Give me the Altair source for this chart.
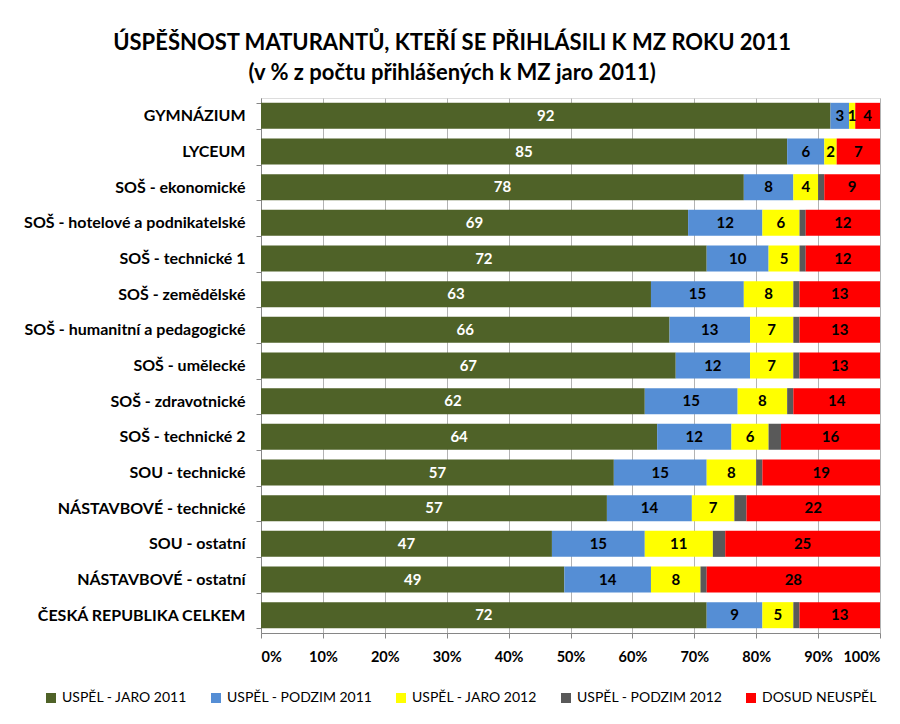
import altair as alt
import pandas as pd

categories = [
    "GYMNÁZIUM",
    "LYCEUM",
    "SOŠ - ekonomické",
    "SOŠ - hotelové a podnikatelské",
    "SOŠ - technické 1",
    "SOŠ - zemědělské",
    "SOŠ - humanitní a pedagogické",
    "SOŠ - umělecké",
    "SOŠ - zdravotnické",
    "SOŠ - technické 2",
    "SOU - technické",
    "NÁSTAVBOVÉ - technické",
    "SOU - ostatní",
    "NÁSTAVBOVÉ - ostatní",
    "ČESKÁ REPUBLIKA CELKEM",
]

series_names = [
    "USPĚL - JARO 2011",
    "USPĚL - PODZIM 2011",
    "USPĚL - JARO 2012",
    "USPĚL - PODZIM 2012",
    "DOSUD NEUSPĚL",
]
series_colors = ["#4F6228", "#558ED5", "#FFFF00", "#595959", "#FF0000"]

jaro_2011 = [92, 85, 78, 69, 72, 63, 66, 67, 62, 64, 57, 57, 47, 49, 72]
podzim_2011 = [3, 6, 8, 12, 10, 15, 13, 12, 15, 12, 15, 14, 15, 14, 9]
jaro_2012 = [1, 2, 4, 6, 5, 8, 7, 7, 8, 6, 8, 7, 11, 8, 5]
podzim_2012 = [0, 0, 1, 1, 1, 1, 1, 1, 1, 2, 1, 2, 2, 1, 1]
neuspel = [4, 7, 9, 12, 12, 13, 13, 13, 14, 16, 19, 22, 25, 28, 13]

x_ticks = [0, 0.1, 0.2, 0.3, 0.4, 0.5, 0.6, 0.7, 0.8, 0.9, 1.0]

all_series = [jaro_2011, podzim_2011, jaro_2012, podzim_2012, neuspel]
rows = []
for si, (name, vals) in enumerate(zip(series_names, all_series)):
    for cat, v in zip(categories, vals):
        rows.append({"cat": cat, "series": name, "order": si, "value": v,
                     "label": str(v), "txtcol": "white" if si == 0 else "black"})
df = pd.DataFrame(rows)

FONT = "Lato"

base = alt.Chart(df).transform_joinaggregate(
    total="sum(value)", groupby=["cat"]
).transform_calculate(
    pct="datum.value / datum.total"
).transform_stack(
    stack="pct", groupby=["cat"], as_=["x0", "x1"],
    sort=[alt.SortField("order", order="ascending")]
).transform_calculate(
    mid="(datum.x0 + datum.x1) / 2"
)

y_enc = alt.Y(
    "cat:N", sort=categories, title=None,
    scale=alt.Scale(paddingInner=0.27, paddingOuter=0.135),
    axis=alt.Axis(
        labelFont=FONT, labelFontSize=16, labelFontWeight="bold", labelColor="#000000",
        tickBand="extent", tickSize=5, tickColor="#868686", domainColor="#868686",
        labelPadding=11, grid=False, labelLimit=400,
    ),
)

bars = base.mark_bar().encode(
    y=y_enc,
    x=alt.X(
        "x0:Q", title=None,
        scale=alt.Scale(domain=[0, 1], nice=False),
        axis=alt.Axis(
            values=x_ticks, format=".0%", labelFont=FONT, labelFontSize=14.5,
            labelFontWeight="bold", labelColor="#000000", grid=True, gridColor="#B3B3B3",
            tickSize=5, tickColor="#868686", domainColor="#868686", labelPadding=12,
        ),
    ),
    x2="x1:Q",
    color=alt.Color(
        "series:N",
        scale=alt.Scale(domain=series_names, range=series_colors),
        legend=alt.Legend(
            title=None, orient="none", direction="horizontal", legendX=-217, legendY=593,
            symbolType="square", symbolSize=100, symbolStrokeWidth=0,
            labelFont=FONT, labelFontSize=14, labelColor="#000000",
            columnPadding=21, labelOffset=4, labelLimit=300,
        ),
    ),
    order=alt.Order("order:Q"),
)

labels = base.transform_filter(
    "datum.order != 3"
).mark_text(font=FONT, fontSize=15, fontWeight="bold").encode(
    y=alt.Y("cat:N", sort=categories),
    x=alt.X("mid:Q"),
    text="label:N",
    color=alt.Color("txtcol:N", scale=None),
)

chart = alt.layer(bars, labels).properties(
    width=619,
    height=535,
    autosize=alt.AutoSizeParams(type="none"),
    padding={"left": 253, "top": 90, "right": 12, "bottom": 80},
    title=alt.Title(
        ["ÚSPĚŠNOST MATURANTŮ, KTEŘÍ SE PŘIHLÁSILI K MZ ROKU 2011",
         "(v % z počtu přihlášených k MZ jaro 2011)"],
        font=FONT, fontSize=22, fontWeight="bold", color="#000000",
        anchor="middle", frame="bounds", lineHeight=30, offset=5,
    ),
).configure_view(stroke=None).configure(background="white")

chart.save("out.html", embed_options={"renderer": "svg", "actions": False})
